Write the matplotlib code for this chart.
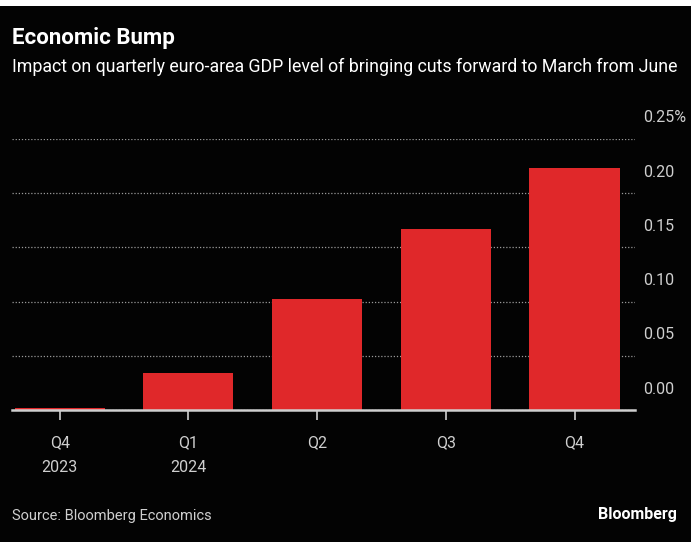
import matplotlib.pyplot as plt

quarters = ["Q4\n2023", "Q1\n2024", "Q2", "Q3", "Q4"]
impact = [0.002, 0.034, 0.102, 0.167, 0.223]
yticks = [0.00, 0.05, 0.10, 0.15, 0.20, 0.25]
ytick_labels = ["0.00", "0.05", "0.10", "0.15", "0.20", "0.25%"]

plt.rcParams["font.family"] = ["Roboto", "DejaVu Sans"]

bg = "#030303"
red = "#E0282A"
grey = "#cfcfcf"

fig = plt.figure(figsize=(6.91, 5.42), dpi=100, facecolor="white")
# black panel under a thin white strip at the top
fig.patches.append(plt.Rectangle((0, 0), 1, 1 - 6 / 542, transform=fig.transFigure,
                                 facecolor=bg, edgecolor="none", zorder=-10))

ax = fig.add_axes([12 / 691, 1 - 410 / 542, 623 / 691, 271 / 542])
ax.set_facecolor(bg)
x = range(len(quarters))
ax.bar(x, impact, width=0.70, color=red, zorder=3)
ax.set_xlim(-0.37, 4.47)
ax.set_ylim(0, 0.25)

for s in ["top", "right", "left"]:
    ax.spines[s].set_visible(False)
ax.spines["bottom"].set_color(grey)
ax.spines["bottom"].set_linewidth(1.8)
ax.spines["bottom"].set_zorder(4)

ax.set_yticks(yticks)
ax.set_yticklabels([])
ax.tick_params(axis="y", length=0)
ax.grid(axis="y", color="#9a9a9a", linestyle=(0, (1, 1.5)), linewidth=0.9, zorder=1)

ax.set_xticks(list(x))
ax.set_xticklabels(quarters, color=grey, fontsize=11.5, linespacing=1.85)
ax.tick_params(axis="x", length=7, width=1.2, color=grey, pad=11)

# value labels sit just above their gridlines, on the right
for v, lab in zip(yticks, ytick_labels):
    ax.annotate(lab, xy=(1.0, v), xycoords=ax.get_yaxis_transform(),
                xytext=(8, 21), textcoords="offset pixels",
                ha="left", va="center", color=grey, fontsize=11.5)

fig.text(12 / 691, 1 - 38 / 542, "Economic Bump", color="white", fontsize=16,
         fontweight="bold", ha="left", va="center")
fig.text(12 / 691, 1 - 67 / 542,
         "Impact on quarterly euro-area GDP level of bringing cuts forward to March from June",
         color="white", fontsize=12.8, ha="left", va="center")
fig.text(12 / 691, 1 - 516 / 542, "Source: Bloomberg Economics", color=grey,
         fontsize=10.5, ha="left", va="center")
fig.text(677 / 691, 1 - 514 / 542, "Bloomberg", color="white", fontsize=11.5,
         fontweight="bold", ha="right", va="center")

fig.savefig("out.png", dpi=100, facecolor=fig.get_facecolor())
